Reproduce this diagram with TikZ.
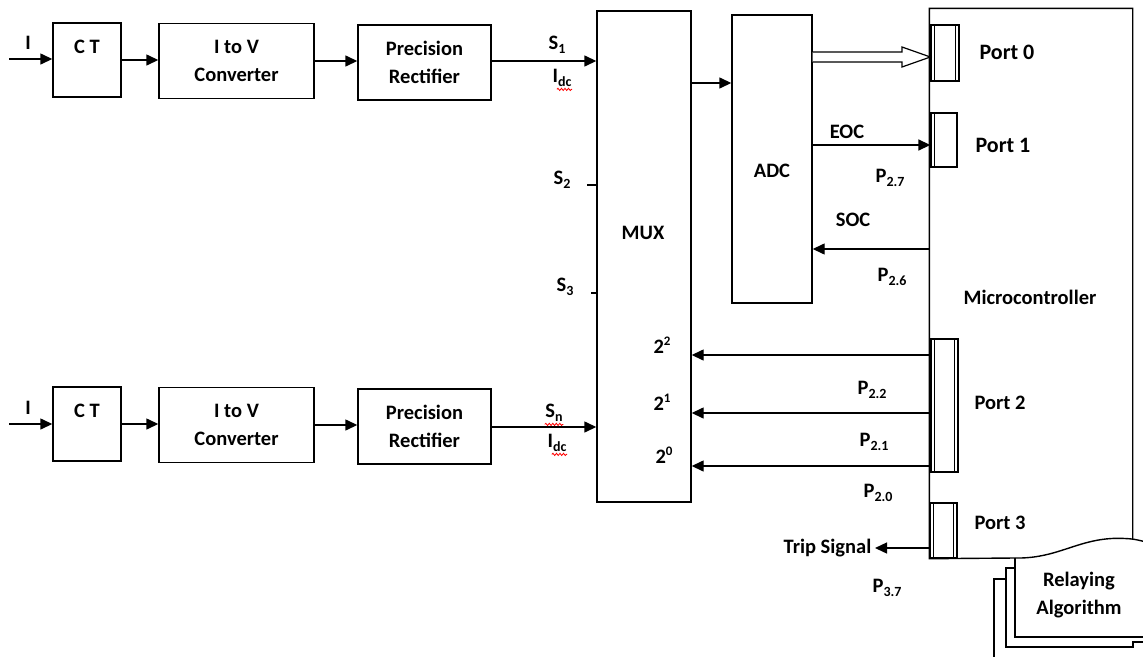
\documentclass[tikz,border=0pt]{standalone}
\usepackage{fontspec}
\setmainfont{Carlito}
\usetikzlibrary{arrows.meta,decorations.pathmorphing,calc}
\newcommand\lsub[1]{\raisebox{-0.4ex}{\fontsize{14}{14}\selectfont #1}}
\newcommand\lsup[1]{\raisebox{0.8ex}{\fontsize{13}{13}\selectfont #1}}
\begin{document}
\begin{tikzpicture}[x=1pt,y=-1pt,
 line width=1.4pt,
 box/.style={draw, line width=1.4pt, inner sep=0pt, fill=white},
 txt/.style={font=\fontsize{20.5}{28}\selectfont\bfseries, inner sep=0pt, align=center},
 bigtxt/.style={txt, font=\fontsize{22}{28}\selectfont\bfseries},
 arr/.style={-{Triangle[length=12pt,width=11pt]}},
 squig/.style={draw=red, line width=0.8pt, decorate, decoration={snake, amplitude=1.1pt, segment length=3.5pt}},
 port/.style={draw, inner sep=0pt, fill=white, line width=1.3pt},
 inner/.style={line width=0.9pt}]
\useasboundingbox (0,0) rectangle (1143,656);
\clip (0,0) rectangle (1143,656);

% ---------- top chain ----------
\coordinate (in1) at (9,59);
\node[box, minimum width=68pt, minimum height=74pt] (ct1) at (87,60) {};
\node[txt] (ctl1) at (87,47) {C T};
\node[box, txt, minimum width=155pt, minimum height=75pt] (itv1) at (236.5,61) {I to V\\Converter};
\node[box, txt, minimum width=133pt, minimum height=75pt] (pr1) at (424.5,62.5) {Precision\\Rectifier};
\node[txt] (i1) at (28,43) {I};

% ---------- bottom chain ----------
\coordinate (in2) at (9,424);
\node[box, minimum width=68pt, minimum height=74pt] (ct2) at (87,424) {};
\node[txt] (ctl2) at (87,411) {C T};
\node[box, txt, minimum width=155pt, minimum height=75pt] (itv2) at (236.5,425) {I to V\\Converter};
\node[box, txt, minimum width=133pt, minimum height=75pt] (pr2) at (424.5,426.5) {Precision\\Rectifier};
\node[txt] (i2) at (28,408) {I};

% ---------- MUX / ADC ----------
\node[box, minimum width=94pt, minimum height=491pt] (mux) at (644,256.5) {};
\node[txt] (muxl) at (643,233) {MUX};
\node[box, minimum width=80pt, minimum height=288pt] (adc) at (772,159) {};
\node[txt] (adcl) at (772,171) {ADC};

% ---------- Relaying algorithm stack ----------
\draw (1006,579) -- (994,579) -- (994,660);
\draw (1015,568) -- (1006,568) -- (1006,647) -- (1133,647) -- (1133,642) -- (1150,642);
\draw (1015,558) -- (1015,637) -- (1150,637);
\node[txt] (relay) at (1079,595) {Relaying\\Algorithm};

% ---------- Microcontroller ----------
\node[minimum width=202pt, minimum height=549pt, inner sep=0pt] (mc) at (1031,283.5) {};
\coordinate (wv) at (1015,558);
\draw (wv) -- (mc.south west) -- (mc.north west) -- (mc.north east) -- ($(mc.north east)+(0,531)$);
\draw (wv) .. controls (1060,559) and (1080,536) .. (1125,538.5) .. controls (1134,539) .. (1150,543);
\node[txt] (mcl) at (1030,297) {Microcontroller};

\node[port, minimum width=28pt, minimum height=56pt] (port0) at (945,53) {};
\draw[inner] ([xshift=4.5pt]port0.north west) -- ([xshift=4.5pt]port0.south west);
\draw[inner] ([xshift=-4pt]port0.north east) -- ([xshift=-4pt]port0.south east);
\node[port, minimum width=26pt, minimum height=54pt] (port1) at (944,140) {};
\draw[inner] ([xshift=4.5pt]port1.north west) -- ([xshift=4.5pt]port1.south west);
\node[port, minimum width=27pt, minimum height=133pt] (port2) at (944.5,405.5) {};
\draw[inner] ([xshift=4.5pt]port2.north west) -- ([xshift=4.5pt]port2.south west);
\draw[inner] ([xshift=-4pt]port2.north east) -- ([xshift=-4pt]port2.south east);
\node[port, minimum width=27pt, minimum height=55pt] (port3) at (943.5,530.5) {};
\draw[inner] ([xshift=4.5pt]port3.north west) -- ([xshift=4.5pt]port3.south west);
\draw[inner] ([xshift=-4pt]port3.north east) -- ([xshift=-4pt]port3.south east);

\node[bigtxt] (p0l) at (1007,52) {Port 0};
\node[bigtxt] (p1l) at (1003,145) {Port 1};
\node[txt] (p2l) at (1000,403) {Port 2};
\node[txt] (p3l) at (1000,523) {Port 3};

% ---------- chain connectors ----------
\draw[arr] (in1) -- (in1 -| ct1.west);
\draw[arr] (ct1.east) -- (ct1.east -| itv1.west);
\draw[arr] (itv1.east) -- (itv1.east -| pr1.west);
\coordinate (s1y) at (0,61);
\draw[arr] (pr1.east |- s1y) -- (mux.west |- s1y);

\draw[arr] (in2) -- (in2 -| ct2.west);
\draw[arr] (ct2.east) -- (ct2.east -| itv2.west);
\draw[arr] (itv2.east) -- (itv2.east -| pr2.west);
\coordinate (sny) at (0,427);
\draw[arr] (pr2.east |- sny) -- (mux.west |- sny);

% signal labels
\node[txt] (s1) at (557,45) {S\lsub{1}};
\node[txt] (idc1) at (562,78) {I\lsub{dc}};
\draw[squig] ([shift={(5pt,-2pt)}]idc1.south west) -- ([shift={(0pt,-2pt)}]idc1.south east);
\node[txt] (sn) at (554,413) {S\lsub{n}};
\draw[squig] ([shift={(0pt,-2pt)}]sn.south west) -- ([shift={(0pt,-2pt)}]sn.south east);
\node[txt] (idc2) at (557,443) {I\lsub{dc}};
\draw[squig] ([shift={(5pt,-2pt)}]idc2.south west) -- ([shift={(0pt,-2pt)}]idc2.south east);

\node[txt] (s2) at (562,180) {S\lsub{2}};
\coordinate (s2t) at (587,185);
\draw (s2t) -- (s2t -| mux.west);
\node[txt] (s3) at (565,287) {S\lsub{3}};
\coordinate (s3t) at (591,293);
\draw (s3t) -- (s3t -| mux.west);

% MUX -> ADC
\coordinate (m2a) at (0,83);
\draw[arr] (mux.east |- m2a) -- (adc.west |- m2a);

% ADC -> Port 0 (hollow bus arrow)
\coordinate (hb1) at (902,52);
\coordinate (hb2) at (902,47);
\coordinate (htip) at (0,57);
\coordinate (hb3) at (902,67);
\coordinate (hb4) at (902,62);
\draw[line width=1.2pt, fill=white] (adc.east |- hb1) -- (hb1) -- (hb2) -- (port0.west |- htip) -- (hb3) -- (hb4) -- (adc.east |- hb4);

% EOC / SOC
\coordinate (eoc) at (0,145);
\draw[arr] (adc.east |- eoc) -- (port1.west |- eoc);
\node[txt] (eocl) at (847,132) {EOC};
\node[txt] (p27) at (890,178) {P\lsub{2.7}};
\coordinate (soc) at (0,249);
\draw[arr] (mc.west |- soc) -- (adc.east |- soc);
\node[txt] (socl) at (853,220) {SOC};
\node[txt] (p26) at (892,277) {P\lsub{2.6}};

% Port 2 -> MUX select lines
\coordinate (q2) at (0,355);
\coordinate (q1) at (0,413);
\coordinate (q0) at (0,466);
\draw[arr] (mc.west |- q2) -- (mux.east |- q2);
\draw[arr] (mc.west |- q1) -- (mux.east |- q1);
\draw[arr] (mc.west |- q0) -- (mux.east |- q0);
\node[txt] (b2) at (662,345) {2\lsup{2}};
\node[txt] (b1) at (662,402) {2\lsup{1}};
\node[txt] (b0) at (664,455) {2\lsup{0}};
\node[txt] (p22) at (872,390) {P\lsub{2.2}};
\node[txt] (p21) at (874,442) {P\lsub{2.1}};
\node[txt] (p20) at (878,493) {P\lsub{2.0}};

% Trip signal
\node[txt, anchor=east] (trip) at (872,548) {Trip Signal};
\coordinate (tripy) at (0,548);
\draw[arr] (mc.west |- tripy) -- ([xshift=3pt]trip.east);
\node[txt] (p37) at (887,588) {P\lsub{3.7}};
\end{tikzpicture}
\end{document}
